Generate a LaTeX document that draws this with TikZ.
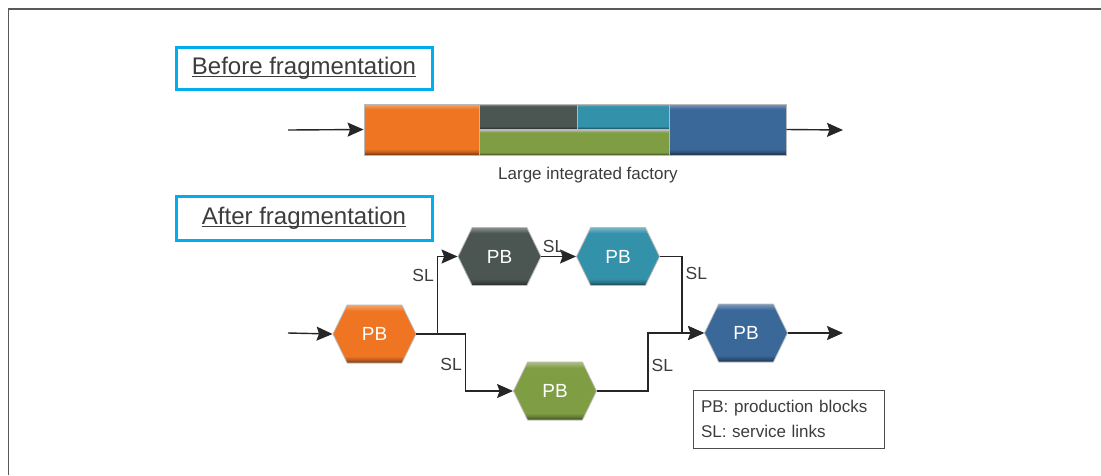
\documentclass[tikz,border=0pt]{standalone}
\usepackage{fontspec}
\setmainfont{Liberation Sans}
\usetikzlibrary{arrows.meta,shapes.symbols}
\definecolor{fragblue}{HTML}{00AEEF}
\definecolor{txtgray}{HTML}{3C3C3C}
\definecolor{pborange}{HTML}{F07522}
\definecolor{pbdark}{HTML}{4B5551}
\definecolor{pbteal}{HTML}{3391A9}
\definecolor{pbgreen}{HTML}{7F9E43}
\definecolor{pbblue}{HTML}{3A6899}
\colorlet{basecol}{gray}
\pgfdeclareverticalshading[basecol]{bevel}{100bp}{color(0bp)=(basecol!45!black); color(25bp)=(basecol!45!black); color(28bp)=(basecol!80!black); color(31bp)=(basecol); color(70bp)=(basecol); color(75bp)=(basecol!65!white); color(100bp)=(basecol!65!white)}
\newcommand{\fragul}[1]{\setbox0\hbox{#1}\rlap{\rule[-3pt]{\wd0}{1.1pt}}\box0}
\tikzset{
  blk/.style={/utils/exec={\colorlet{basecol}{#1}}, shade, shading=bevel, draw=gray!55, line width=0.8pt, inner sep=0pt},
  hexa/.style={blk=#1, signal, signal to=west and east, signal pointer angle=128, minimum width=83pt, minimum height=58pt, text=white, font=\fontsize{19}{19}\selectfont},
  flow/.style={line width=1.4pt, draw=black!85, -{Stealth[length=16pt,width=14pt,inset=2.5pt]}},
  sl/.style={font=\fontsize{17.5}{17.5}\selectfont, text=txtgray, inner sep=3pt},
  title/.style={draw=fragblue, line width=3pt, minimum width=256pt, text=txtgray, font=\fontsize{24}{24}\selectfont}
}
\begin{document}
\begin{tikzpicture}[x=1pt,y=-1pt]
\useasboundingbox (0,0) rectangle (1101,475);
\draw[line width=1.6pt, draw=black!65] (8.5,475) -- (8.5,9) -- (1101,9);
% before
\node[title, minimum height=42pt] (bef) at (304,68) {\fragul{Before fragmentation}};
\node[blk=pborange, minimum width=115pt, minimum height=51pt] (fo) at (421.5,129.5) {};
\node[blk=pbdark, minimum width=98pt, minimum height=25pt] (fd) at (528,116.5) {};
\node[blk=pbteal, minimum width=92pt, minimum height=25pt] (ft) at (623,116.5) {};
\node[blk=pbgreen, minimum width=190pt, minimum height=25pt] (fg) at (574,142.5) {};
\node[blk=pbblue, minimum width=117pt, minimum height=51pt] (fb) at (727.5,129.5) {};
\coordinate (fin) at (288,130);
\coordinate (fout) at (843,130);
\draw[flow] (fin) -- (fo.west);
\draw[flow] (fb.east) -- (fout);
\node[sl, font=\fontsize{17}{17}\selectfont] (lif) at (588,175) {Large integrated factory};
% after
\node[title, minimum height=44pt] (aft) at (304,218) {\fragul{After fragmentation}};
\node[hexa=pborange] (pa) at (374.5,334) {PB};
\node[hexa=pbdark] (pb) at (499.5,256.5) {PB};
\node[hexa=pbteal] (pc) at (618,256.5) {PB};
\node[hexa=pbgreen] (pd) at (555,391) {PB};
\node[hexa=pbblue] (pe) at (746,333) {PB};
\coordinate (hin) at (288,333);
\coordinate (hout) at (843,333);
\draw[flow] (hin) -- (pa.west);
\draw[flow] (pa.east) -- ++(21,0) |- node[sl,pos=0.375,left]{SL} (pb.west);
\draw[flow] (pa.east) -- ++(49,0) |- node[sl,pos=0.27,left]{SL} (pd.west);
\draw[flow] (pb.east) -- node[sl,pos=0.35,above]{SL} (pc.west);
\draw[flow] (pc.east) -- ++(22,0) |- node[sl,pos=0.11,right]{SL} (pe.west);
\draw[flow] (pd.east) -- ++(51,0) |- node[sl,pos=0.22,right]{SL} (pe.west);
\draw[flow] (pe.east) -- (hout);
% legend
\node[draw=black!70, line width=0.8pt, minimum width=191pt, minimum height=58pt, text width=175pt, align=left, font=\fontsize{17}{25}\selectfont, text=txtgray] (leg) at (788.5,419) {PB: production blocks\\SL: service links};
\end{tikzpicture}
\end{document}
